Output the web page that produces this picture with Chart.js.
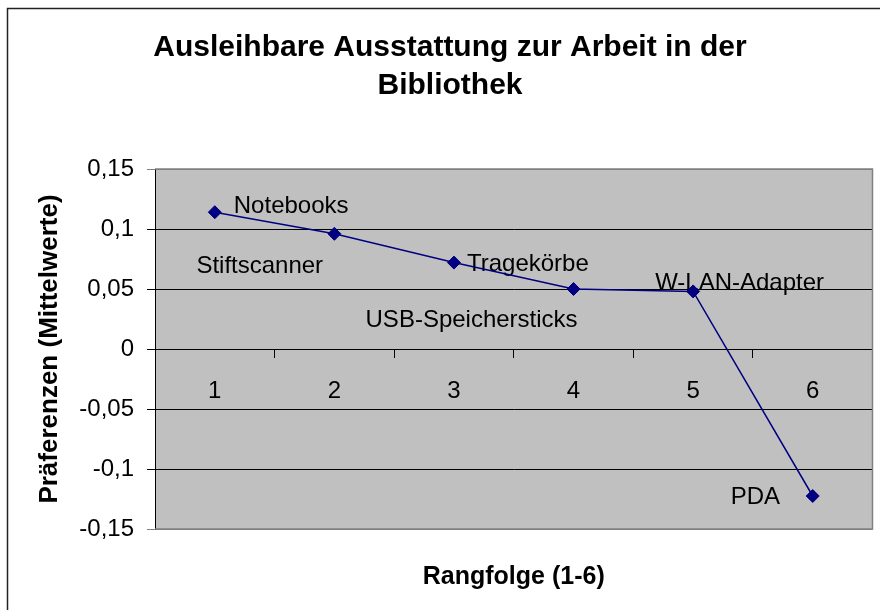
<!DOCTYPE html>
<html>
<head>
<meta charset="utf-8">
<script src="https://cdn.jsdelivr.net/npm/chart.js@4"></script>
<style>
    body { margin: 0; background: #fff; }
    #chart { display: block; }
</style>
</head>
<body>
<canvas id="chart" width="880" height="610"></canvas>
<script>
// Rangfolge 1-6 und Mittelwerte
const rangfolge = ['1', '2', '3', '4', '5', '6'];
const mittelwerte = [0.114, 0.096, 0.072, 0.050, 0.048, -0.1225];
const ausstattung = ['Notebooks', 'Stiftscanner', 'Tragekörbe', 'USB-Speichersticks', 'W-LAN-Adapter', 'PDA'];
const yTicks = [-0.15, -0.1, -0.05, 0, 0.05, 0.1, 0.15];

const schrift = "'Liberation Sans', Arial, sans-serif";

// Versatz der Beschriftungen zum Punkt (linke Kante, vertikale Mitte)
const labelOffsets = [[19, -6], [-138, 33], [13, 2], [-208, 31], [-38, -8], [-82, 1]];

Chart.defaults.color = '#000';
Chart.defaults.font.family = schrift;

// keine zusätzlichen Ränder durch die Beschriftungen der x-Achsen
function ohneRand(scale) {
    scale.paddingLeft = 0;
    scale.paddingRight = 0;
}

const plotHintergrund = {
    id: 'plotHintergrund',
    beforeDraw(chart) {
        const { ctx, chartArea: a } = chart;
        ctx.save();
        ctx.fillStyle = '#c0c0c0';
        ctx.fillRect(a.left, a.top, a.right - a.left, a.bottom - a.top);
        ctx.restore();
    },
    beforeDatasetsDraw(chart) {
        const { ctx } = chart;
        const meta = chart.getDatasetMeta(0);
        ctx.save();
        ctx.font = '24px ' + schrift;
        ctx.fillStyle = '#000';
        ctx.textAlign = 'left';
        ctx.textBaseline = 'middle';
        meta.data.forEach((pt, i) => {
            const [dx, dy] = labelOffsets[i];
            ctx.fillText(ausstattung[i], pt.x + dx, pt.y + dy);
        });
        ctx.restore();
    },
    afterDraw(chart) {
        const { ctx, chartArea: a } = chart;
        ctx.save();
        ctx.strokeStyle = '#808080';
        ctx.lineWidth = 1.5;
        ctx.beginPath();
        ctx.moveTo(a.left, a.top);
        ctx.lineTo(a.right, a.top);
        ctx.lineTo(a.right, a.bottom);
        ctx.lineTo(a.left, a.bottom);
        ctx.stroke();
        // Rahmen des Diagramms
        ctx.strokeStyle = '#222';
        ctx.lineWidth = 1.5;
        ctx.strokeRect(7.5, 8.5, 1000, 1000);
        ctx.restore();
    }
};

new Chart(document.getElementById('chart'), {
    type: 'line',
    data: {
        labels: rangfolge,
        datasets: [{
            data: mittelwerte,
            borderColor: '#000080',
            backgroundColor: '#000080',
            borderWidth: 1.5,
            pointStyle: 'rectRot',
            pointRadius: 6.5,
            pointBorderWidth: 1,
            pointHoverRadius: 6.5,
            tension: 0
        }]
    },
    options: {
        responsive: false,
        animation: false,
        layout: { padding: { left: 25, right: 5, top: 0, bottom: 0 } },
        plugins: {
            legend: { display: false },
            tooltip: { enabled: false },
            title: {
                display: true,
                text: ['Ausleihbare Ausstattung zur Arbeit in der', 'Bibliothek'],
                font: { size: 30, weight: 'bold', lineHeight: 1.25 },
                color: '#000',
                padding: { top: 29, bottom: 65 }
            }
        },
        scales: {
            x: {
                position: { y: 0 },
                offset: true,
                afterFit: ohneRand,
                grid: {
                    offset: true,
                    drawOnChartArea: false,
                    drawTicks: true,
                    tickLength: 8,
                    color: '#000'
                },
                border: { display: true, color: '#000', width: 1 },
                ticks: { font: { size: 24 }, padding: 20, maxRotation: 0 }
            },
            // nur für den Achsentitel unten
            xTitel: {
                type: 'category',
                position: 'bottom',
                labels: rangfolge,
                offset: true,
                afterFit: ohneRand,
                grid: { display: false, drawTicks: false },
                border: { display: false },
                ticks: { display: false },
                title: {
                    display: true,
                    text: 'Rangfolge (1-6)',
                    font: { size: 25, weight: 'bold', lineHeight: 1.2 },
                    color: '#000',
                    padding: { top: 33.5, bottom: 17.5 }
                }
            },
            y: {
                min: -0.15,
                max: 0.15,
                afterBuildTicks(scale) {
                    scale.ticks = yTicks.map(v => ({ value: v }));
                },
                afterFit(scale) {
                    scale.width = 130;
                },
                grid: {
                    color: c => (c.tick && Math.abs(Math.abs(c.tick.value) - 0.15) < 1e-9) ? '#808080' : '#000',
                    tickLength: 8,
                    lineWidth: 1
                },
                border: { display: true, color: '#000', width: 1 },
                ticks: {
                    font: { size: 24 },
                    padding: 13,
                    callback: v => String(Math.round(v * 100) / 100).replace('.', ',')
                },
                title: {
                    display: true,
                    text: 'Präferenzen (Mittelwerte)',
                    font: { size: 26, weight: 'bold', lineHeight: 1.2 },
                    color: '#000',
                    padding: { top: 9, bottom: 0 }
                }
            }
        }
    },
    plugins: [plotHintergrund]
});
</script>
</body>
</html>
